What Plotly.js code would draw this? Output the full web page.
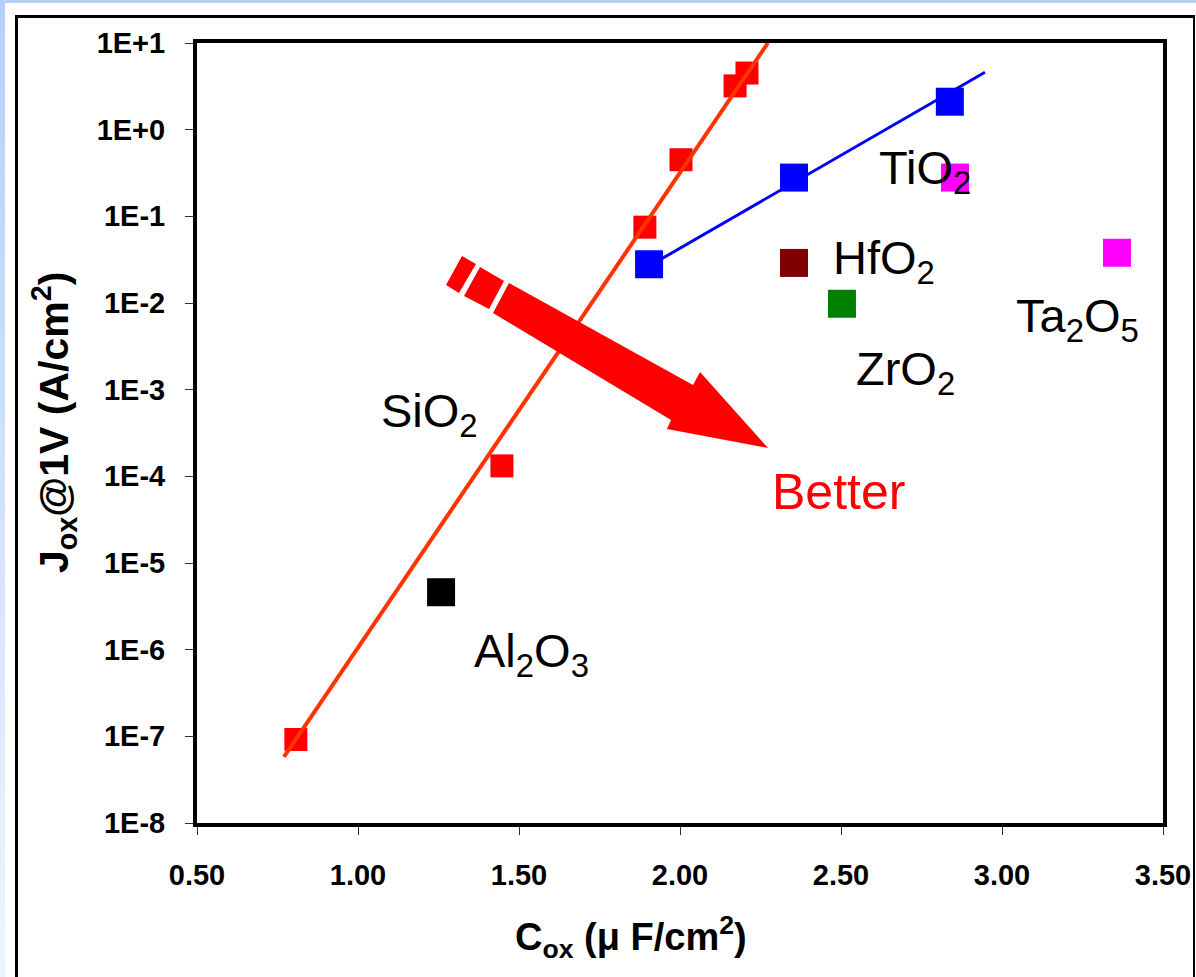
<!DOCTYPE html>
<html>
<head>
<meta charset="utf-8">
<script src="https://cdn.plot.ly/plotly-3.0.1.min.js"></script>
<style>
  html, body { margin:0; padding:0; }
  body { width:1196px; height:977px; overflow:hidden; position:relative; background:#ffffff; }
  #bandTop { position:absolute; left:0; top:0; width:1196px; height:3px; background:#b4d0fa; }
  #bandLeft { position:absolute; left:0; top:0; width:5px; height:977px; background:linear-gradient(#b4d0fa, #eef4fe); }
  #frame { position:absolute; left:15px; top:15px; width:1175px; height:1000px; border-left:3px solid #000; border-top:3px solid #000; border-right:2px solid #000; }
  #chart { position:absolute; left:0; top:0; width:1196px; height:977px; }
</style>
</head>
<body>
<div id="bandTop"></div>
<div id="bandLeft"></div>
<div id="frame"></div>
<div id="chart"></div>
<script>
// ---- data ----
const sio2X = [0.807, 1.447, 1.891, 2.003, 2.171, 2.208];
const sio2Y = [9.2e-8, 1.32e-4, 0.075, 0.45, 3.2, 4.5];
const sio2FitX = [0.770, 2.273];
const sio2FitY = [5.8e-8, 10];

const tio2X = [1.904, 2.354, 2.838];
const tio2Y = [0.028, 0.28, 2.1];
const tio2FitX = [1.904, 2.947];
const tio2FitY = [0.0267, 4.6];

const tio2bX = [2.854];
const tio2bY = [0.28];
const hfo2X = [2.354];
const hfo2Y = [0.029];
const zro2X = [2.503];
const zro2Y = [0.0098];
const ta2o5X = [3.357];
const ta2o5Y = [0.038];
const al2o3X = [1.258];
const al2o3Y = [4.6e-6];

const yTickVals = [1e-8, 1e-7, 1e-6, 1e-5, 1e-4, 1e-3, 1e-2, 1e-1, 1, 10];
const yTickText = ['1E-8', '1E-7', '1E-6', '1E-5', '1E-4', '1E-3', '1E-2', '1E-1', '1E+0', '1E+1'];
const labelTexts = ['TiO<sub>2</sub>', 'HfO<sub>2</sub>', 'ZrO<sub>2</sub>', 'Ta<sub>2</sub>O<sub>5</sub>', 'SiO<sub>2</sub>', 'Al<sub>2</sub>O<sub>3</sub>', 'Better'];

// ---- layout geometry (pixels of the 1196x977 page) ----
const L = 197, R = 1163, T = 43, B = 823;
const px = X => (X - L) / (R - L);
const py = Y => (B - Y) / (B - T);
const FONT = 'Arial, "Liberation Sans", sans-serif';

function sq(x, y, color, size, name) {
  return { x: x, y: y, type: 'scatter', mode: 'markers', name: name,
    marker: { symbol: 'square', size: size, color: color, line: { width: 0 } },
    hoverinfo: 'x+y' };
}

const traces = [
  sq(sio2X, sio2Y, '#ff0000', 23, 'SiO2'),
  { x: sio2FitX, y: sio2FitY, type: 'scatter', mode: 'lines', line: { color: '#ff3300', width: 4 }, name: 'SiO2 fit' },
  { x: tio2FitX, y: tio2FitY, type: 'scatter', mode: 'lines', line: { color: '#0000ff', width: 3 }, name: 'fit' },
  sq(tio2X, tio2Y, '#0000ff', 28, 'series'),
  sq(tio2bX, tio2bY, '#ff00ff', 28, 'TiO2'),
  sq(ta2o5X, ta2o5Y, '#ff00ff', 28, 'Ta2O5'),
  sq(hfo2X, hfo2Y, '#800000', 28, 'HfO2'),
  sq(zro2X, zro2Y, '#008000', 28, 'ZrO2'),
  sq(al2o3X, al2o3Y, '#000000', 28, 'Al2O3')
];

// label positions (pixel centers)
const labelPos = [[925, 171], [884, 261], [905, 372], [1077, 319], [429, 414], [531, 654], [838, 492]];
const annotations = labelTexts.map((t, i) => ({
  text: t, xref: 'paper', yref: 'paper', x: px(labelPos[i][0]), y: py(labelPos[i][1]),
  xanchor: 'center', yanchor: 'middle', showarrow: false,
  font: { family: FONT, size: i === 6 ? 50 : 47, color: i === 6 ? '#ff0000' : '#000000' }
}));
annotations.push({
  text: '<b>C<sub>ox</sub> (μ F/cm<sup>2</sup>)</b>', xref: 'paper', yref: 'paper',
  x: px(631), y: py(937), xanchor: 'center', yanchor: 'middle', showarrow: false,
  font: { family: FONT, size: 38, color: '#000' }
});
annotations.push({
  text: '<b>J<sub>ox</sub>@1V (A/cm<sup>2</sup>)</b>', xref: 'paper', yref: 'paper',
  x: px(54), y: py(423), xanchor: 'center', yanchor: 'middle', textangle: -90, showarrow: false,
  font: { family: FONT, size: 41, color: '#000' }
});

// block arrow ("Better") drawn as path shapes
function path(points) {
  return 'M' + points.map(p => px(p[0]).toFixed(4) + ',' + py(p[1]).toFixed(4)).join('L') + 'Z';
}
const arrowParts = [
  [[462, 256], [476, 264], [459, 293], [446, 285]],
  [[480, 267], [504, 281], [489, 309], [464, 296]],
  [[509, 283], [693, 385], [700, 372], [768, 448], [667, 429], [671, 420], [493, 313]]
];
const shapes = arrowParts.map(p => ({
  type: 'path', xref: 'paper', yref: 'paper', path: path(p),
  fillcolor: '#ff0000', line: { width: 0 }, layer: 'above'
}));

const axisCommon = {
  showline: true, linecolor: '#000', linewidth: 4, mirror: true,
  ticks: 'outside', ticklen: 8, tickwidth: 1, tickcolor: '#333',
  showgrid: false, zeroline: false,
  tickfont: { family: FONT, size: 29, color: '#000', weight: 'bold' }
};

const layout = {
  width: 1196, height: 977,
  margin: { l: L, r: 1196 - R, t: T, b: 977 - B, pad: 0 },
  paper_bgcolor: 'rgba(0,0,0,0)', plot_bgcolor: '#ffffff',
  showlegend: false,
  xaxis: Object.assign({}, axisCommon, { range: [0.5, 3.5], tick0: 0.5, dtick: 0.5, tickformat: '.2f', ticklabelstandoff: 15 }),
  yaxis: Object.assign({}, axisCommon, { type: 'log', range: [-8, 1], tickvals: yTickVals, ticktext: yTickText, ticklabelstandoff: 14 }),
  annotations: annotations,
  shapes: shapes
};

Plotly.newPlot('chart', traces, layout, { displayModeBar: false, staticPlot: true });
</script>
</body>
</html>
